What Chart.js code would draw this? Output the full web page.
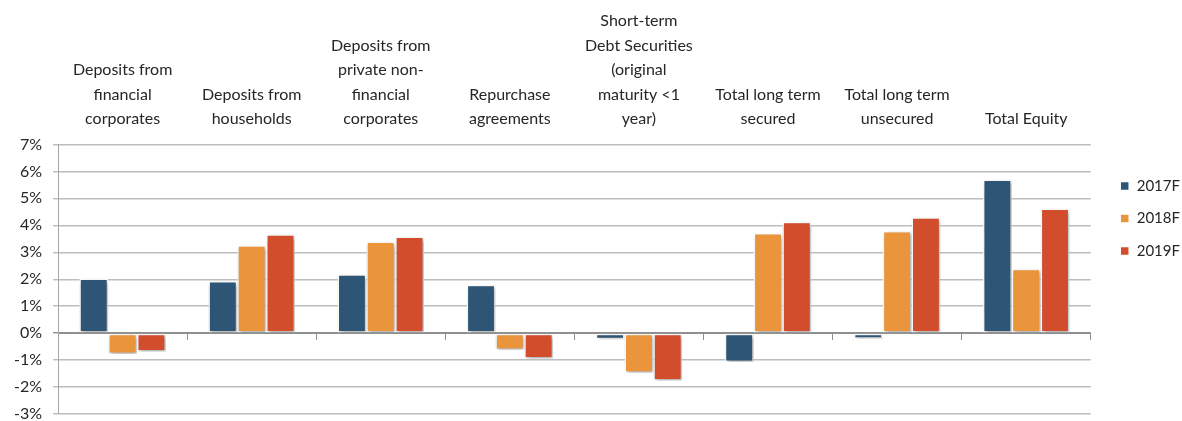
<!DOCTYPE html>
<html>
<head>
<meta charset="utf-8">
<script src="https://cdn.jsdelivr.net/npm/chart.js@4.4.1/dist/chart.umd.min.js"></script>
<style>
  html, body { margin: 0; padding: 0; background: #fff; }
  #wrap { width: 1182px; height: 421px; }
</style>
</head>
<body>
<div id="wrap"><canvas id="chart" width="1182" height="421"></canvas></div>
<script>
// category labels (wrapped as on the original)
const categories = [
    ['Deposits from', 'financial', 'corporates'],
    ['Deposits from', 'households'],
    ['Deposits from', 'private non-', 'financial', 'corporates'],
    ['Repurchase', 'agreements'],
    ['Short-term', 'Debt Securities', '(original', 'maturity <1', 'year)'],
    ['Total long term', 'secured'],
    ['Total long term', 'unsecured'],
    ['Total Equity']
];

const seriesNames = ['2017F', '2018F', '2019F'];
const values2017 = [2.03, 1.93, 2.18, 1.79, -0.23, -1.07, -0.21, 5.70];
const values2018 = [-0.77, 3.26, 3.40, -0.62, -1.47, 3.71, 3.79, 2.39];
const values2019 = [-0.68, 3.67, 3.58, -0.94, -1.76, 4.13, 4.30, 4.62];
const colors = ['#2E5575', '#EA943C', '#D24D2C'];

const yMin = -3, yMax = 7, yStep = 1;

const gridColor = '#BDBDBD';
const axisColor = '#8F8F8F';
const textColor = '#262626';
const fontFamily = 'Lato, "Open Sans", "Liberation Sans", sans-serif';

// soft drop shadow under the bars
const barShadow = {
    id: 'barShadow',
    beforeDatasetsDraw(chart) {
        const ctx = chart.ctx;
        ctx.save();
        ctx.shadowColor = 'rgba(0,0,0,0.35)';
        ctx.shadowBlur = 4;
        ctx.shadowOffsetX = 1.5;
        ctx.shadowOffsetY = 2;
    },
    afterDatasetsDraw(chart) {
        chart.ctx.restore();
    }
};

// push the legend a bit further from the plot and down, like the original
const legendNudge = {
    id: 'legendNudge',
    afterLayout(chart) {
        const lg = chart.legend;
        const w = lg.right - lg.left;
        lg.left = chart.chartArea.right + 12;
        lg.right = lg.left + w;
        lg.top = 8;
        lg.bottom = chart.height + 8;
    }
};

const allValues = [values2017, values2018, values2019];
const datasets = seriesNames.map((name, i) => ({
    label: name,
    data: allValues[i],
    backgroundColor: colors[i],
    borderColor: '#ffffff',
    borderWidth: 1.5,
    borderSkipped: false,
    categoryPercentage: 0.67,
    barPercentage: 1.0
}));

new Chart(document.getElementById('chart').getContext('2d'), {
    type: 'bar',
    data: { labels: categories, datasets },
    plugins: [barShadow, legendNudge],
    options: {
        responsive: false,
        animation: false,
        layout: { padding: { left: 3, right: 4, top: -4, bottom: 7 } },
        plugins: {
            legend: {
                position: 'right',
                maxWidth: 89,
                labels: {
                    boxWidth: 9,
                    boxHeight: 9,
                    padding: 17.5,
                    color: textColor,
                    font: { family: fontFamily, size: 15 }
                }
            },
            tooltip: { enabled: false }
        },
        scales: {
            x: {
                position: { y: 0 },
                grid: { drawOnChartArea: false, drawTicks: true, tickLength: 6, color: axisColor },
                border: { display: true, color: axisColor },
                ticks: { display: false }
            },
            xTop: {
                type: 'category',
                position: 'top',
                labels: categories,
                offset: true,
                grid: { display: false, drawTicks: false },
                border: { display: false },
                ticks: {
                    autoSkip: false,
                    maxRotation: 0,
                    padding: 13,
                    color: textColor,
                    font: { family: fontFamily, size: 16, lineHeight: 1.53 }
                }
            },
            y: {
                min: yMin,
                max: yMax,
                afterFit(scale) {
                    // let the -3% label hang below the plot like the original
                    scale.paddingBottom = 0;
                },
                ticks: {
                    stepSize: yStep,
                    padding: 11,
                    color: textColor,
                    font: { family: fontFamily, size: 16 },
                    callback: v => v + '%'
                },
                grid: {
                    color: c => (c.tick && c.tick.value === 0) ? axisColor : gridColor,
                    lineWidth: 1.4,
                    tickLength: 5
                },
                border: { color: '#A6A6A6' }
            }
        }
    }
});
</script>
</body>
</html>
